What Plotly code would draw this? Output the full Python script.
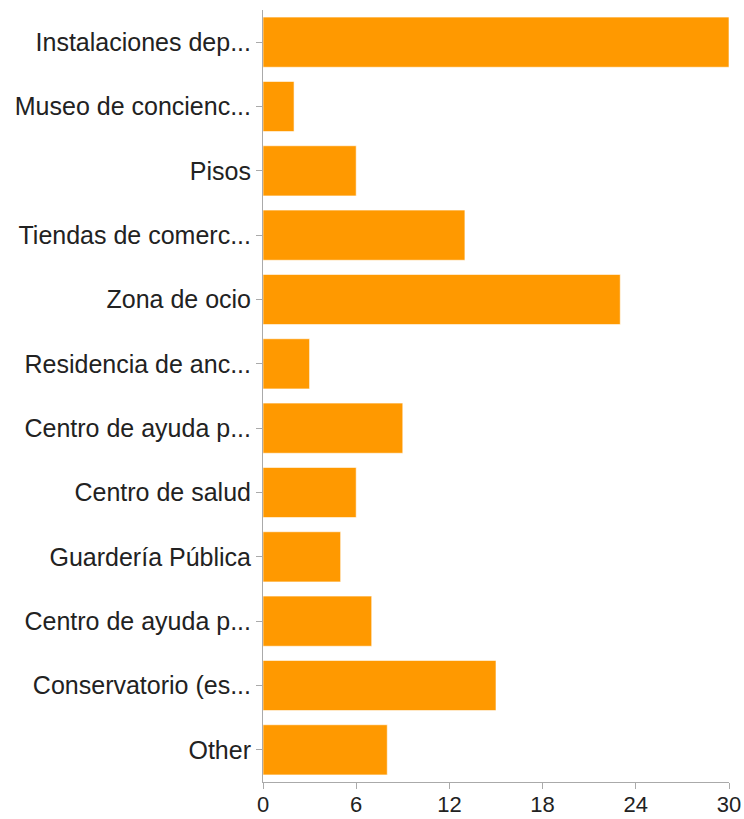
import plotly.graph_objects as go

categories = [
    "Instalaciones dep...",
    "Museo de concienc...",
    "Pisos",
    "Tiendas de comerc...",
    "Zona de ocio",
    "Residencia de anc...",
    "Centro de ayuda p...",
    "Centro de salud",
    "Guardería Pública",
    "Centro de ayuda p...",
    "Conservatorio (es...",
    "Other",
]
values = [30, 2, 6, 13, 23, 3, 9, 6, 5, 7, 15, 8]
x_ticks = [0, 6, 12, 18, 24, 30]

positions = list(range(len(categories)))

fig = go.Figure(go.Bar(
    x=values,
    y=positions,
    orientation="h",
    marker=dict(color="#FF9900", line=dict(color="rgba(255,255,255,0.6)", width=1)),
))

fig.update_layout(
    width=744, height=819,
    margin=dict(l=263, r=15, t=10, b=37, autoexpand=False),
    paper_bgcolor="white", plot_bgcolor="white",
    bargap=0.22,
    showlegend=False,
    font=dict(family="Liberation Sans, Arial, sans-serif", size=25, color="#222222"),
)
fig.update_xaxes(
    range=[0, 30], tickvals=x_ticks, showgrid=False, zeroline=False,
    showline=True, linecolor="#aaaaaa", linewidth=1,
    ticks="outside", ticklen=6, tickcolor="#aaaaaa", automargin=False,
    ticklabelstandoff=-3,
    tickfont=dict(size=22, color="#222222"),
)
fig.update_yaxes(
    range=[len(categories) - 0.5, -0.5],
    tickvals=positions, ticktext=categories,
    showgrid=False, zeroline=False,
    showline=True, linecolor="#aaaaaa", linewidth=1,
    ticks="outside", ticklen=6, tickcolor="#aaaaaa", automargin=False,
    tickfont=dict(size=25, color="#222222"),
)

fig.write_html(
    "out.html",
    config={"displayModeBar": False},
    post_script="document.body.style.margin='0';document.body.style.overflow='hidden';",
)
